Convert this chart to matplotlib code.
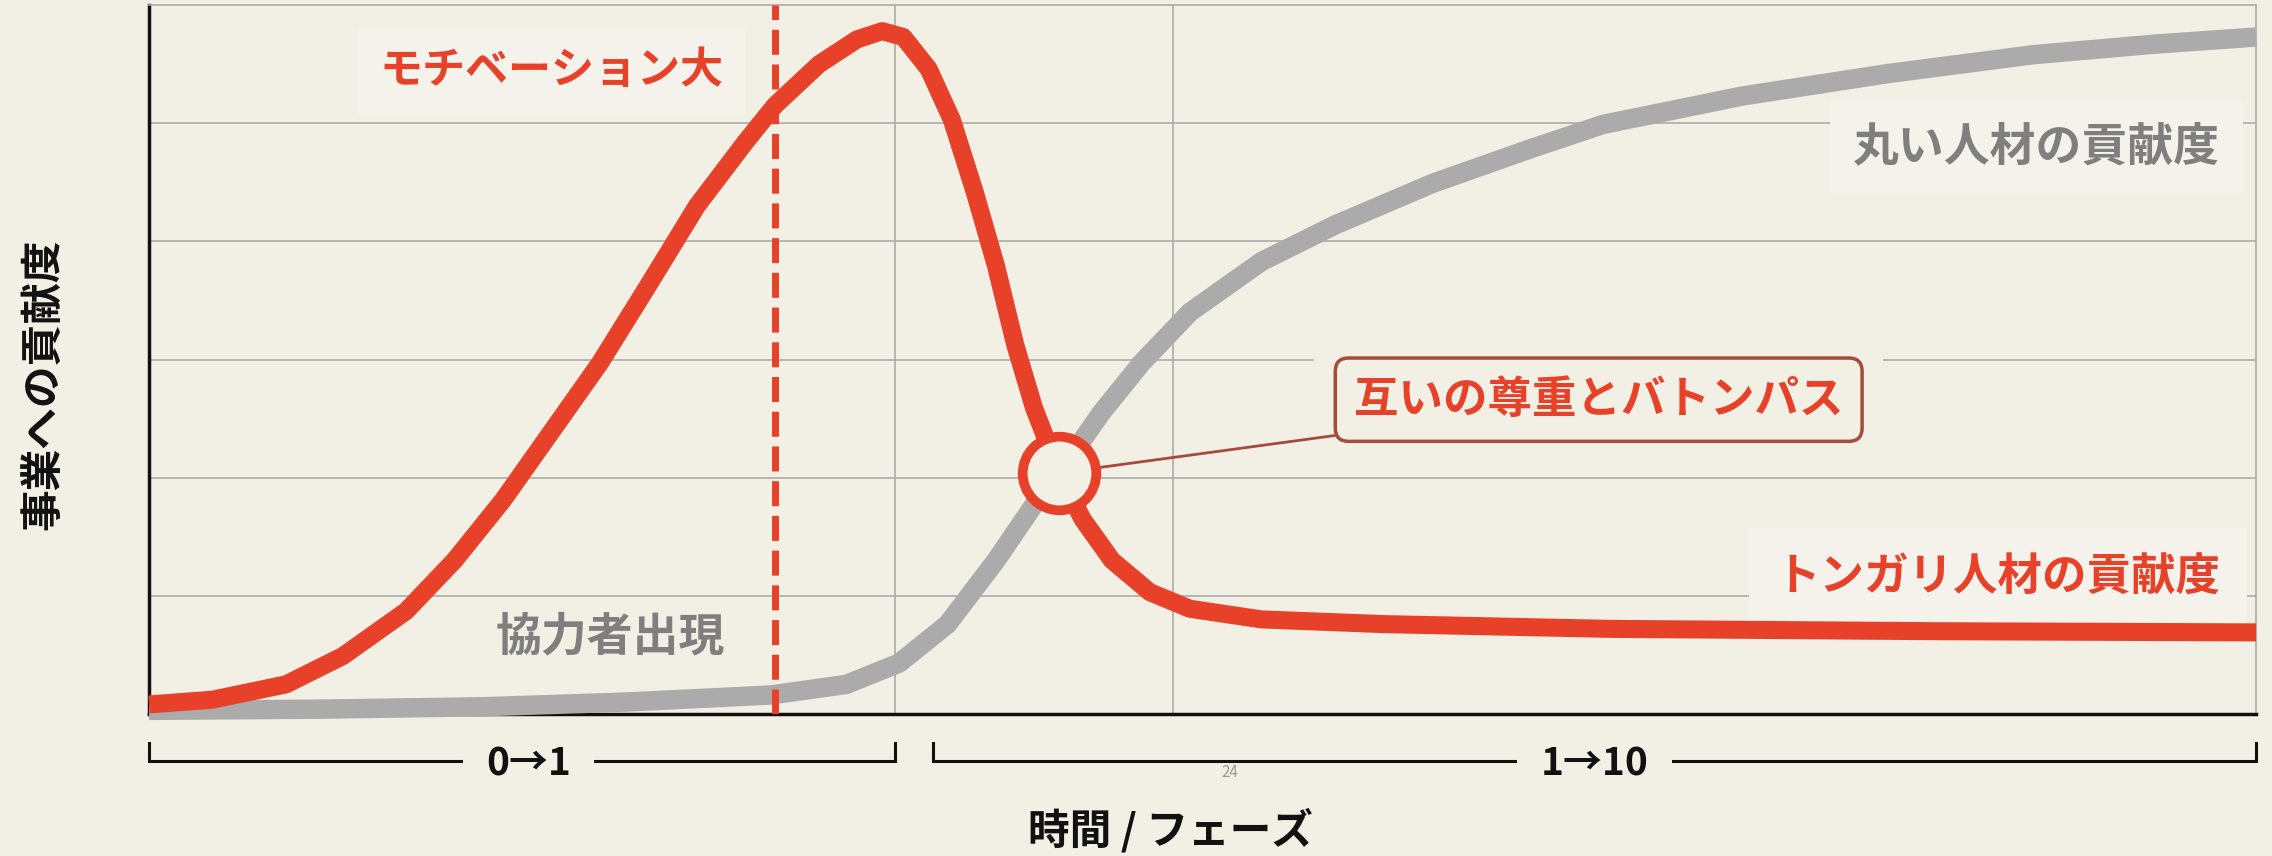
import matplotlib
matplotlib.use("Agg")
import matplotlib.pyplot as plt
import matplotlib.transforms as mtransforms

plt.rcParams['font.family'] = ['Noto Sans CJK JP', 'DejaVu Sans']

# --- データ ---
# トンガリ人材の貢献度 (赤)
red_x = [0.0, 0.30, 0.65, 0.92, 1.22, 1.45, 1.68, 1.91, 2.14, 2.37, 2.60, 2.83,
         2.97, 3.18, 3.36, 3.48, 3.58, 3.70, 3.81, 3.92, 4.02, 4.11, 4.20, 4.32,
         4.43, 4.57, 4.75, 4.94, 5.28, 5.86, 6.93, 8.50, 10.0]
red_y = [0.08, 0.12, 0.25, 0.49, 0.87, 1.30, 1.81, 2.39, 2.97, 3.63, 4.30, 4.84,
         5.15, 5.50, 5.71, 5.78, 5.73, 5.46, 5.03, 4.41, 3.79, 3.13, 2.59, 2.04,
         1.65, 1.30, 1.03, 0.89, 0.80, 0.76, 0.72, 0.70, 0.69]

# 丸い人材の貢献度 (グレー)
gray_x = [0.0, 0.80, 1.57, 2.26, 2.95, 3.31, 3.56, 3.79, 4.02, 4.20, 4.32, 4.52,
          4.71, 4.94, 5.28, 5.63, 6.09, 6.55, 6.90, 7.56, 8.25, 8.94, 9.52, 10.0]
gray_y = [0.03, 0.04, 0.06, 0.10, 0.16, 0.25, 0.43, 0.76, 1.30, 1.77, 2.04, 2.55,
          2.97, 3.40, 3.83, 4.14, 4.49, 4.78, 4.99, 5.23, 5.42, 5.58, 5.67, 5.73]

cross_point = (4.32, 2.04)        # 交点(バトンパス)
motivation_x = 2.97               # 破線の位置
phase_split = [3.54, 4.86]        # 縦グリッド
phase_ranges = [(0.0, 3.54, 1.80, '0→1'), (3.72, 10.0, 6.86, '1→10')]

# --- 色 ---
BG = '#F2EFE5'
LABEL_BG = '#F4F2EA'
RED = '#E8412A'
GRAY_LINE = '#ABABAB'
GRAY_TEXT = '#7F7F7F'
GRID = '#ABABAB'
EDGE = '#A64A3C'

fig = plt.figure(figsize=(22.72, 8.56), dpi=100, facecolor=BG)
ax = fig.add_axes([0.0656, 0.166, 0.9274, 0.828])
ax.set_facecolor(BG)
ax.set_xlim(0, 10)
ax.set_ylim(0, 6)

# グリッド
for yv in range(1, 6):
    ax.axhline(yv, color=GRID, lw=1.2, zorder=1)
for xv in phase_split:
    ax.axvline(xv, color=GRID, lw=1.2, zorder=1)

for s in ['top', 'right']:
    ax.spines[s].set_color(GRID)
    ax.spines[s].set_linewidth(1.2)
for s in ['left', 'bottom']:
    ax.spines[s].set_color('#111111')
    ax.spines[s].set_linewidth(2.5)
ax.set_xticks([])
ax.set_yticks([])

# 曲線
ax.plot(gray_x, gray_y, color=GRAY_LINE, lw=14, solid_joinstyle='round',
        solid_capstyle='butt', zorder=3, clip_on=False)
ax.plot(red_x, red_y, color=RED, lw=13, solid_joinstyle='round',
        solid_capstyle='butt', zorder=4, clip_on=False)

# 破線
ax.axvline(motivation_x, color=RED, lw=5, dashes=(3.6, 1.4), zorder=5)

# 交点の丸と吹き出し
callout = '互いの尊重とバトンパス'
ax.text(6.88, 2.66, callout, ha='center', va='center', fontsize=32,
        fontweight='bold', color='none',
        bbox=dict(boxstyle='square,pad=0.9', fc=BG, ec='none'), zorder=2)
ax.annotate(callout, xy=cross_point, xytext=(6.88, 2.66),
            ha='center', va='center', fontsize=32, fontweight='bold', color=RED,
            bbox=dict(boxstyle='round,pad=0.42,rounding_size=0.3', fc=BG,
                      ec=EDGE, lw=2.5),
            arrowprops=dict(arrowstyle='-', color=EDGE, lw=2,
                            shrinkA=0, shrinkB=28),
            zorder=6)
ax.plot(*cross_point, marker='o', markersize=53, markerfacecolor=BG,
        markeredgecolor=RED, markeredgewidth=7, zorder=7)

# ラベル
lbl_bg = dict(boxstyle='square,pad=0.5', fc=LABEL_BG, ec='none')
ax.text(1.91, 5.45, 'モチベーション大', color=RED, fontsize=31,
        fontweight='bold', ha='center', va='center', bbox=lbl_bg, zorder=2)
ax.text(9.83, 4.80, '丸い人材の貢献度', color=GRAY_TEXT, fontsize=33,
        fontweight='bold', ha='right', va='center', bbox=lbl_bg, zorder=2)
ax.text(9.83, 1.15, 'トンガリ人材の貢献度', color=RED, fontsize=32,
        fontweight='bold', ha='right', va='center',
        bbox=dict(boxstyle='square,pad=0.6', fc=LABEL_BG, ec='none'), zorder=2)
ax.text(2.19, 0.65, '協力者出現', color=GRAY_TEXT, fontsize=33,
        fontweight='bold', ha='center', va='center', zorder=2)

# フェーズの括弧
trans = mtransforms.blended_transform_factory(ax.transData, ax.transAxes)
for x0, x1, xt, lab in phase_ranges:
    ax.plot([x0, x0, x1, x1], [-0.041, -0.066, -0.066, -0.041], color='#111111',
            lw=2.2, transform=trans, clip_on=False, solid_joinstyle='miter')
    ax.text(xt, -0.07, lab, transform=trans, ha='center', va='center',
            fontsize=28, fontweight='bold', color='#111111',
            bbox=dict(boxstyle='square,pad=0.6', fc=BG, ec='none'))
ax.text(5.13, -0.082, '24', transform=trans, ha='center', va='center',
        fontsize=11, color='#999999')

fig.text(0.019, 0.551, '事業への貢献度', rotation=90, ha='center', va='center',
         fontsize=30, fontweight='bold', color='#111111')
fig.text(0.515, 0.030, '時間 / フェーズ', ha='center', va='center',
         fontsize=30, fontweight='bold', color='#111111')

fig.savefig('out.png', dpi=100, facecolor=BG)
